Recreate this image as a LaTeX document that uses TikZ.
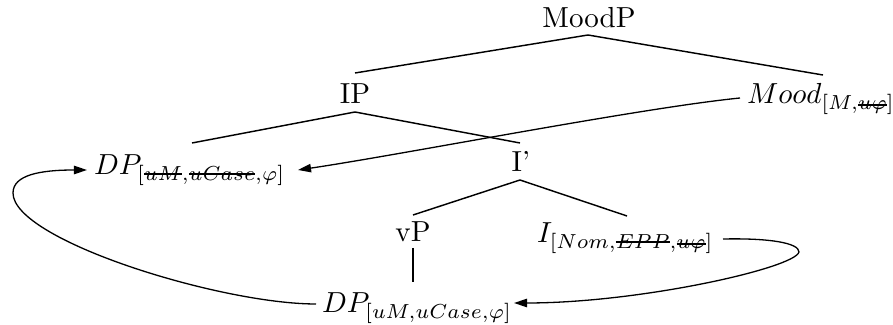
\documentclass[tikz,border=0pt]{standalone}
\usepackage{amsmath}
\usetikzlibrary{arrows.meta}
\makeatletter
\newcommand{\stk}[1]{\mathpalette\stk@aux{#1}}
\newcommand{\stk@aux}[2]{\setbox0=\hbox{$\m@th#1#2$}\hbox{\rlap{\rule[0.38\ht0]{\wd0}{0.7pt}}\box0}}
\makeatother
\begin{document}
\begin{tikzpicture}[x=0.3448pt,y=-0.3448pt,
  lbl/.style={inner sep=0pt,outer sep=0pt,font=\normalsize},
  branch/.style={line width=0.5pt},
  mv/.style={line width=0.45pt,-{Triangle[length=4.5pt,width=2.9pt]}}]
\useasboundingbox (0,0) rectangle (893,325);
% nodes
\node[lbl,anchor=base] (MoodP) at (589,28) {MoodP};
\node[lbl,anchor=base] (IP) at (355,104) {IP};
\node[lbl,anchor=base west] (Mood) at (747,104) {$Mood_{[M,\stk{u\varphi}]}$};
\node[lbl,anchor=base west] (DPt) at (94,175) {$DP_{[\stk{uM},\stk{uCase},\varphi]}$};
\node[lbl,anchor=base] (Ibar) at (521,172) {I'};
\node[lbl,anchor=base] (vP) at (413,242) {vP};
\node[lbl,anchor=base west] (I) at (537,243) {$I_{[Nom,\stk{EPP},\stk{u\varphi}]}$};
\node[lbl,anchor=base west] (DPb) at (322,313) {$DP_{[uM,uCase,\varphi]}$};
% branch end points
\coordinate (MoodP-b) at (588,35);
\coordinate (IP-t) at (355,73);
\coordinate (Mood-t) at (823,75);
\coordinate (IP-b) at (355,112);
\coordinate (DPt-t) at (192,143);
\coordinate (Ibar-t) at (520,143);
\coordinate (Ibar-b) at (520,180);
\coordinate (vP-t) at (413,215);
\coordinate (I-t) at (627,216);
\coordinate (vP-b) at (413,248);
\coordinate (DPb-t) at (413,282);
% tree branches
\draw[branch] (MoodP-b) -- (IP-t);
\draw[branch] (MoodP-b) -- (Mood-t);
\draw[branch] (IP-b) -- (DPt-t);
\draw[branch] (IP-b) -- (Ibar-t);
\draw[branch] (Ibar-b) -- (vP-t);
\draw[branch] (Ibar-b) -- (I-t);
\draw[line width=0.8pt] (vP-b) -- (DPb-t);
% movement arrows
\coordinate (Mood-w) at (740,98);
\coordinate (DPt-e) at (298,170);
\coordinate (I-e) at (723,239);
\coordinate (DPb-e) at (514,303);
\coordinate (DPb-w) at (316,304);
\coordinate (DPt-w) at (87,170);
\draw[mv] (Mood-w) .. controls (640,108) and (400,155) .. (DPt-e);
\draw[mv] (I-e) .. controls (770,238) and (799,243) .. (799,252)
  .. controls (795,268) and (640,303) .. (DPb-e);
\draw[mv] (DPb-w) .. controls (220,304) and (13,240) .. (13,193)
  .. controls (13,175) and (40,170) .. (DPt-w);
\end{tikzpicture}
\end{document}
